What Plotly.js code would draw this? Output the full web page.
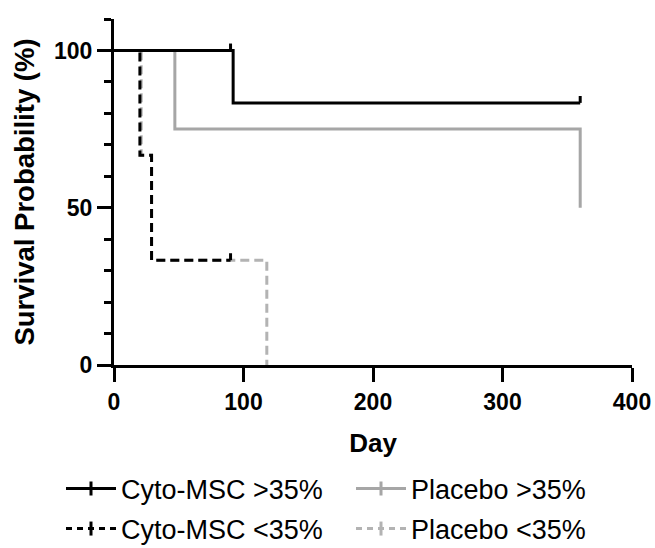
<!DOCTYPE html>
<html>
<head>
<meta charset="utf-8">
<script src="https://cdn.plot.ly/plotly-3.0.1.min.js"></script>
<style>html,body{margin:0;padding:0;background:#fff;}#chart{width:655px;height:548px;}</style>
</head>
<body>
<div id="chart"></div>
<script>
// Series names
const seriesNames = ["Cyto-MSC >35%", "Placebo >35%", "Cyto-MSC <35%", "Placebo <35%"];

// Kaplan-Meier step curves (day, survival %)
const cytoHighDays = [0, 92, 92, 360];
const cytoHighSurv = [100, 100, 83.33, 83.33];
const cytoHighCensorDays = [90, 360];
const cytoHighCensorSurv = [100, 83.33];

const placeboHighDays = [0, 47, 47, 360, 360];
const placeboHighSurv = [100, 100, 75, 75, 50];

const cytoLowDays = [0, 20, 20, 29, 29, 90];
const cytoLowSurv = [100, 100, 66.67, 66.67, 33.33, 33.33];
const cytoLowCensorDays = [90];
const cytoLowCensorSurv = [33.33];

const placeboLowDays = [0, 21, 21, 29, 29, 118, 118];
const placeboLowSurv = [100, 100, 66.67, 66.67, 33.33, 33.33, 0];

// Axis ticks
const xTicks = [0, 100, 200, 300, 400];
const yTicks = [0, 50, 100];

const BLACK = "#000000";
const GRAY = "#a6a6a6";
const LGRAY = "#b3b3b3";
const DASH = "9px,5px";
const FONT = "Liberation Sans, Arial, sans-serif";
const CENSOR_LEN = 2.2;

function stepTrace(x, y, color, dash) {
  return {x: x, y: y, type: "scatter", mode: "lines", showlegend: false, hoverinfo: "skip",
    line: {color: color, width: 3, dash: dash || "solid", shape: "linear"}};
}
function censorTrace(x, y, color) {
  return {x: x, y: y, type: "scatter", mode: "markers", showlegend: false, hoverinfo: "skip",
    marker: {size: 1, color: "rgba(0,0,0,0)"},
    error_y: {type: "data", symmetric: false, array: x.map(() => CENSOR_LEN), arrayminus: x.map(() => 0),
      width: 0, thickness: 3, color: color}};
}
function legendTrace(name, color, dash, legendId) {
  return {x: [null], y: [null], type: "scatter", mode: "lines+markers", name: name, legend: legendId,
    line: {color: color, width: 3, dash: dash || "solid"},
    marker: {symbol: "line-ns", size: 10, color: color, line: {color: color, width: 3}}};
}

const data = [
  stepTrace(placeboLowDays, placeboLowSurv, LGRAY, DASH),
  stepTrace(placeboHighDays, placeboHighSurv, GRAY),
  stepTrace(cytoLowDays, cytoLowSurv, BLACK, DASH),
  censorTrace(cytoLowCensorDays, cytoLowCensorSurv, BLACK),
  stepTrace(cytoHighDays, cytoHighSurv, BLACK),
  censorTrace(cytoHighCensorDays, cytoHighCensorSurv, BLACK),
  legendTrace(seriesNames[0], BLACK, "solid", "legend"),
  legendTrace(seriesNames[1], GRAY, "solid", "legend2"),
  legendTrace(seriesNames[2], BLACK, "6px,5px", "legend3"),
  legendTrace(seriesNames[3], LGRAY, "6px,5px", "legend4")
];

function legendAt(px, py) {
  return {
    orientation: "h", xref: "container", yref: "container", xanchor: "left", yanchor: "middle",
    x: px / 655, y: 1 - py / 548,
    font: {family: FONT, size: 27, color: "#000"}, itemwidth: 50,
    bgcolor: "rgba(0,0,0,0)", borderwidth: 0
  };
}

const layout = {
  width: 655, height: 548,
  margin: {l: 114, r: 23, t: 19, b: 183},
  paper_bgcolor: "#fff", plot_bgcolor: "#fff",
  font: {family: FONT, color: "#000"},
  xaxis: {
    range: [0, 400], tickvals: xTicks, ticktext: xTicks.map(String),
    showgrid: false, zeroline: false, showline: true, linewidth: 3, linecolor: BLACK,
    ticks: "outside", ticklen: 14, tickwidth: 3, tickcolor: BLACK,
    tickfont: {family: FONT, size: 23, weight: "bold", color: "#000"},
    title: {text: "Day", font: {family: FONT, size: 26, weight: "bold", color: "#000"}, standoff: 21}
  },
  yaxis: {
    range: [0, 110], tickvals: yTicks, ticktext: yTicks.map(String),
    showgrid: false, zeroline: false, showline: true, linewidth: 3, linecolor: BLACK,
    ticks: "outside", ticklen: 14, tickwidth: 3, tickcolor: BLACK,
    minor: {tick0: 0, dtick: 10, ticks: "outside", ticklen: 7, tickwidth: 3, tickcolor: BLACK, showgrid: false},
    tickfont: {family: FONT, size: 23, weight: "bold", color: "#000"},
    title: {text: "Survival Probability (%)", font: {family: FONT, size: 27.5, weight: "bold", color: "#000"}, standoff: 12}
  },
  legend: legendAt(61, 489),
  legend2: legendAt(351, 489),
  legend3: legendAt(61, 529),
  legend4: legendAt(351, 529),
  showlegend: true
};

Plotly.newPlot("chart", data, layout, {displayModeBar: false, staticPlot: true});
</script>
</body>
</html>
